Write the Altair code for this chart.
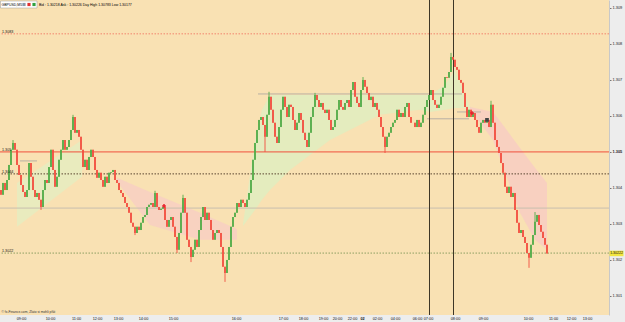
import altair as alt
import pandas as pd

# ---------------- data ----------------
first_open = 1.30394
closes = [
 1.30381,1.30414,1.30394,1.30422,1.30464,1.30506,1.30525,1.30506,1.30464,1.30436,
 1.30408,1.30389,1.30375,1.30394,1.30469,1.30431,1.30394,1.30375,1.30386,1.30367,
 1.30347,1.30394,1.30422,1.30414,1.30458,1.30506,1.30450,1.30403,1.30431,1.30478,
 1.30506,1.30533,1.30506,1.30514,1.30533,1.30561,1.30597,1.30553,1.30561,1.30542,
 1.30506,1.30458,1.30478,1.30450,1.30486,1.30506,1.30486,1.30450,1.30428,1.30442,
 1.30422,1.30403,1.30431,1.30414,1.30442,1.30444,1.30450,1.30422,1.30414,1.30394,
 1.30386,1.30375,1.30358,1.30347,1.30331,1.30303,1.30292,1.30275,1.30292,1.30283,
 1.30303,1.30319,1.30325,1.30347,1.30353,1.30358,1.30347,1.30386,1.30347,1.30339,
 1.30342,1.30347,1.30311,1.30292,1.30311,1.30319,1.30292,1.30264,1.30228,1.30275,
 1.30331,1.30372,1.30331,1.30256,1.30236,1.30208,1.30228,1.30256,1.30236,1.30283,
 1.30319,1.30347,1.30311,1.30331,1.30311,1.30283,1.30256,1.30275,1.30283,1.30275,
 1.30236,1.30181,1.30164,1.30200,1.30236,1.30292,1.30319,1.30331,1.30358,1.30347,
 1.30367,1.30358,1.30347,1.30367,1.30386,1.30422,1.30478,1.30525,1.30561,1.30589,
 1.30597,1.30575,1.30542,1.30603,1.30653,1.30617,1.30581,1.30542,1.30525,1.30569,
 1.30617,1.30653,1.30625,1.30597,1.30631,1.30625,1.30589,1.30561,1.30581,1.30608,
 1.30589,1.30553,1.30533,1.30514,1.30553,1.30597,1.30625,1.30658,1.30644,1.30625,
 1.30636,1.30617,1.30608,1.30617,1.30589,1.30561,1.30569,1.30589,1.30617,1.30644,
 1.30625,1.30617,1.30636,1.30644,1.30625,1.30672,1.30694,1.30653,1.30636,1.30625,
 1.30672,1.30700,1.30681,1.30664,1.30644,1.30653,1.30625,1.30636,1.30617,1.30597,
 1.30569,1.30542,1.30514,1.30542,1.30553,1.30569,1.30581,1.30589,1.30617,1.30597,
 1.30608,1.30597,1.30625,1.30636,1.30597,1.30581,1.30581,1.30569,1.30589,1.30569,
 1.30581,1.30603,1.30625,1.30644,1.30658,1.30672,1.30644,1.30631,1.30622,1.30631,
 1.30653,1.30678,1.30708,1.30706,1.30722,1.30764,1.30756,1.30736,1.30728,1.30700,
 1.30692,1.30664,1.30625,1.30597,1.30617,1.30597,1.30608,1.30589,1.30569,1.30553,
 1.30581,1.30589,1.30581,1.30589,1.30569,1.30631,1.30581,1.30533,1.30514,1.30497,
 1.30469,1.30442,1.30403,1.30386,1.30403,1.30375,1.30386,1.30339,1.30303,1.30275,
 1.30283,1.30264,1.30247,1.30219,1.30206,1.30242,1.30269,1.30306,1.30325,1.30297,
 1.30278,1.30261,1.30242,1.30218,
]
hi_idx = [6, 36, 77, 91, 134, 157, 181, 225, 245, 267]
hi_val = [1.30533, 1.30603, 1.30392, 1.30381, 1.30667, 1.30664, 1.30708, 1.30775, 1.30642, 1.30333]
lo_idx = [20, 67, 88, 95, 112, 132, 192, 264]
lo_val = [1.30339, 1.30269, 1.30219, 1.30194, 1.30139, 1.30500, 1.30497, 1.30178]

# horizontal levels: price, colour, dashed
lvl_price = [1.30828, 1.305, 1.30439, 1.30344, 1.30219]
lvl_color = ["#f2846e", "#f0503c", "#5a4630", "#c9bfae", "#8da062"]
lvl_dash = [True, False, True, False, True]
lvl_label_price = [1.30828, 1.305, 1.30439, 1.30219]
lvl_label_text = ["1.3083", "1.305", "1.3044", "1.3022"]

# short gray segments: start slot, end slot, price
seg_x1 = [128.5, 9.5, 213, 228]
seg_x2 = [230.5, 18, 234, 240]
seg_p = [1.30661, 1.30475, 1.30592, 1.30611]

# vertical lines (slots)
vlines = [214.25, 226.25]

# shaded regions: region, slot, top, bottom
reg_name = (["g1"] * 2 + ["p1"] * 4 + ["g2"] * 13 + ["p2"] * 6)
reg_x = [8, 40.5,
         58, 74.5, 99.5, 118,
         121, 127, 130.5, 134.5, 144.5, 164.5, 189.5, 209.5, 214.5, 222, 227, 232, 235.5,
         234.5, 246, 251, 259.5, 267, 273]
reg_top = [1.30414, 1.30533,
           1.30428, 1.30389, 1.30331, 1.30286,
           1.30300, 1.30533, 1.30617, 1.30658, 1.30658, 1.30658, 1.30658, 1.30658, 1.30658, 1.30686, 1.30728, 1.30658, 1.30614,
           1.30625, 1.30611, 1.30575, 1.30511, 1.30456, 1.30414]
reg_bot = [1.30292, 1.30431,
           1.30417, 1.30297, 1.30256, 1.30256,
           1.30294, 1.30339, 1.30367, 1.30394, 1.30450, 1.30533, 1.30603, 1.30617, 1.30611, 1.30617, 1.30622, 1.30622, 1.30608,
           1.30617, 1.30533, 1.30458, 1.30331, 1.30256, 1.30228]

# markers
mk_x = [81.5, 235.5, 243]
mk_p = [1.30350, 1.30608, 1.30589]
mk_kind = ["plus", "plus", "sq"]

# x-axis ticks (slot positions) and labels
xt_vals = [10, 24.5, 37.5, 48, 58.5, 71, 86, 117.5, 141, 151, 161, 168, 175.5, 180.5,
           188, 197, 208, 213.5, 227, 241, 263.5, 276, 285, 293]
xt_labels = ["09:00", "10:00", "11:00", "12:00", "13:00", "14:00", "15:00", "16:00",
             "17:00", "18:00", "19:00", "20:00", "22:00", "02", "02:00", "04:00",
             "06:00", "07:00", "08:00", "09:00", "10:00", "11:00", "12:00", "13:00"]
yt_vals = [1.301, 1.302, 1.303, 1.304, 1.305, 1.306, 1.307, 1.308, 1.309]

bid_price = 1.30218
bid_label = "1.30222"
header = "Bid : 1.30218 Ask : 1.30226 Day High 1.30783 Low 1.30177"
symbol = "GBPUSD,M5"
watermark = "© fx-Finance.com, Zlato si mohli přát"

# ---------------- build tables ----------------
opens = [first_open] + closes[:-1]
highs = [max(o, c) for o, c in zip(opens, closes)]
lows = [min(o, c) for o, c in zip(opens, closes)]
for i, v in zip(hi_idx, hi_val):
    highs[i] = max(highs[i], v)
for i, v in zip(lo_idx, lo_val):
    lows[i] = min(lows[i], v)
candles = pd.DataFrame({
    "k": list(range(len(closes))), "open": opens, "close": closes,
    "high": highs, "low": lows,
    "dir": ["up" if c >= o else "down" for o, c in zip(opens, closes)],
})

FONT = "Liberation Sans"
W, H = 609, 315
xs = alt.Scale(domain=[-0.5, 304], nice=False, zero=False)
ys = alt.Scale(domain=[1.30047, 1.30922], nice=False, zero=False)
col = alt.Color("dir:N", scale=alt.Scale(domain=["up", "down"], range=["#52ac48", "#f24e40"]), legend=None)

labexpr = "[" + ",".join("'%s'" % t for t in xt_labels) + "][indexof([" + \
    ",".join(str(v) for v in xt_vals) + "], datum.value)]"

x_axis = alt.Axis(values=xt_vals, labelExpr=labexpr, title=None, grid=False, ticks=False,
                  labelFontSize=3.8, labelPadding=1.5, labelColor="#111111", domain=False,
                  labelOverlap=False, labelFlush=False, labelBound=False,
                  labelFontWeight={"condition": {"test": "datum.value == 180.5", "value": "bold"}, "value": "normal"})
y_axis = alt.Axis(values=yt_vals, format=".3f", orient="right", title=None, grid=False,
                  labelFontSize=3.9, tickSize=2, labelPadding=1, labelColor="#222222",
                  domainColor="#c8c8c8", tickColor="#777777", labelOverlap=False,
                  labelFontWeight={"condition": {"test": "abs(datum.value - 1.305) < 0.00001", "value": "bold"}, "value": "normal"})


def X(f):
    return alt.X(f, scale=xs, axis=x_axis)


def Y(f):
    return alt.Y(f, scale=ys, axis=y_axis)


layers = []

# shaded regions
regions = pd.DataFrame({"r": reg_name, "k": reg_x, "top": reg_top, "bot": reg_bot})
layers.append(alt.Chart(regions).mark_area(opacity=0.85).encode(
    x=X("k:Q"), y=Y("top:Q"), y2="bot:Q", detail="r:N",
    color=alt.Color("r:N", scale=alt.Scale(domain=["g1", "p1", "g2", "p2"],
                    range=["#e6ecbf", "#f8cfc2", "#e0edc0", "#f8cdc2"]), legend=None),
))

# full-width levels
for p, c, d in zip(lvl_price, lvl_color, lvl_dash):
    kw = {"strokeDash": [1.5, 1.5]} if d else {}
    layers.append(alt.Chart(pd.DataFrame({"p": [p]})).mark_rule(color=c, strokeWidth=1, **kw).encode(
        y=Y("p:Q")))

# short gray segments
segs = pd.DataFrame({"x1": seg_x1, "x2": seg_x2, "p": seg_p})
layers.append(alt.Chart(segs).mark_rule(color="#b8b0a4", strokeWidth=1).encode(
    x=X("x1:Q"), x2="x2:Q", y=Y("p:Q")))

# vertical lines
layers.append(alt.Chart(pd.DataFrame({"k": vlines})).mark_rule(color="#3e3626", strokeWidth=1).encode(
    x=X("k:Q")))

# candles
base = alt.Chart(candles)
layers.append(base.mark_rule(strokeWidth=0.9).encode(
    x=X("k:Q"), y=Y("low:Q"), y2="high:Q", color=col))
layers.append(base.mark_rule(strokeWidth=1.7).encode(
    x=X("k:Q"), y=Y("open:Q"), y2="close:Q", color=col))

# markers
mk = pd.DataFrame({"k": mk_x, "p": mk_p, "m": mk_kind})
layers.append(alt.Chart(mk).mark_point(filled=True, size=14, opacity=1).encode(
    x=X("k:Q"), y=Y("p:Q"),
    shape=alt.Shape("m:N", scale=alt.Scale(domain=["plus", "sq"], range=["cross", "square"]), legend=None),
    color=alt.Color("m:N", scale=alt.Scale(domain=["plus", "sq"], range=["#e8202a", "#444444"]), legend=None)))

# level labels on the left
lab = pd.DataFrame({"p": lvl_label_price, "t": lvl_label_text})
layers.append(alt.Chart(lab).mark_text(fontSize=3.7, align="left", baseline="alphabetic", dy=-0.7,
                                       color="#111111", font=FONT).encode(
    x=alt.value(2), y=Y("p:Q"), text="t:N"))

# header
one = pd.DataFrame({"a": [0]})
layers.append(alt.Chart(one).mark_rect(fill="#ffffff", stroke="#9a9a9a", strokeWidth=0.5).encode(
    x=alt.value(0.5), x2=alt.value(37), y=alt.value(1), y2=alt.value(8)))
layers.append(alt.Chart(pd.DataFrame({"t": [symbol]})).mark_text(fontSize=3.5, align="left", baseline="middle",
                                                                color="#000000", font=FONT).encode(
    x=alt.value(1.5), y=alt.value(4.6), text="t:N"))
for ix, icol in zip([24, 29, 34], ["#8899aa", "#e03030", "#30a040"]):
    layers.append(alt.Chart(one).mark_point(shape="square", filled=True, size=10, opacity=1, color=icol).encode(
        x=alt.value(ix), y=alt.value(4.5)))
layers.append(alt.Chart(pd.DataFrame({"t": [header]})).mark_text(fontSize=3.5, align="left", baseline="middle",
                                                                color="#000000", font=FONT).encode(
    x=alt.value(39), y=alt.value(4.6), text="t:N"))

# watermark
layers.append(alt.Chart(pd.DataFrame({"t": [watermark]})).mark_text(fontSize=3.3, align="left", baseline="middle",
                                                                   color="#333333", font=FONT).encode(
    x=alt.value(1.5), y=alt.value(312), text="t:N"))

# current bid box on the axis
bid = pd.DataFrame({"p": [bid_price], "t": [bid_label]})
layers.append(alt.Chart(bid).mark_tick(orient="horizontal", size=14, thickness=5.5, color="#f2e640", opacity=1).encode(
    x=alt.value(616.5), y=Y("p:Q")))
layers.append(alt.Chart(bid).mark_text(fontSize=3.5, align="center", baseline="middle", color="#111111",
                                       font=FONT).encode(
    x=alt.value(616.5), y=Y("p:Q"), text="t:N"))

chart = alt.layer(*layers).properties(
    width=W, height=H, background="#ededed",
    autosize=alt.AutoSizeParams(type="none"),
    padding={"left": 0, "top": 0, "right": 16, "bottom": 7},
).resolve_scale(color="independent", shape="independent").configure_view(
    fill="#f9e1b3", stroke=None
).configure_axis(labelFont=FONT)

chart.save("out.html", embed_options={"renderer": "svg", "actions": False})
